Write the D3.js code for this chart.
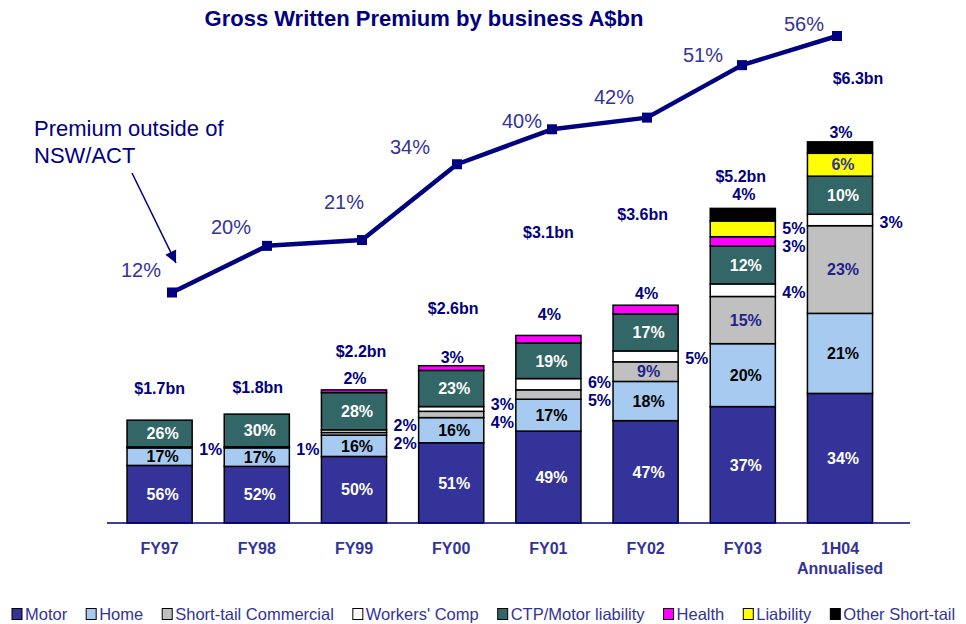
<!DOCTYPE html>
<html>
<head>
<meta charset="utf-8">
<title>Gross Written Premium by business</title>
<script src="https://cdn.jsdelivr.net/npm/d3@7"></script>
<style>
  body { margin: 0; background: #fff; }
  text { font-family: Arial, "Liberation Sans", sans-serif; }
</style>
</head>
<body>
<svg width="966" height="624" id="mainsvg"></svg>
<script>
// ---- data ----
const years = ['FY97', 'FY98', 'FY99', 'FY00', 'FY01', 'FY02', 'FY03', '1H04'];
const totals = [1.7, 1.8, 2.2, 2.6, 3.1, 3.6, 5.2, 6.3];          // A$bn
const outsideNsw = [12, 20, 21, 34, 40, 42, 51, 56];               // % premium outside NSW/ACT
const businesses = ['Motor', 'Home', 'Short-tail Commercial', "Workers' Comp",
                    'CTP/Motor liability', 'Health', 'Liability', 'Other Short-tail'];
// share of each year's premium, %
const motor          = [56, 52, 50, 51, 49, 47, 37, 34];
const home           = [17, 17, 16, 16, 17, 18, 20, 21];
const shortTail      = [ 1,  1,  2,  4,  5,  9, 15, 23];
const workersComp    = [ 0,  0,  2,  3,  6,  5,  4,  3];
const ctp            = [26, 30, 28, 23, 19, 17, 12, 10];
const health         = [ 0,  0,  2,  3,  4,  4,  3,  0];
const liability      = [ 0,  0,  0,  0,  0,  0,  5,  6];
const otherShortTail = [ 0,  0,  0,  0,  0,  0,  4,  3];
const shares = [motor, home, shortTail, workersComp, ctp, health, liability, otherShortTail];

// ---- styles ----
const colors = ['#333399', '#a6caf0', '#c0c0c0', '#ffffff', '#336666', '#ff00ff', '#ffff00', '#000000'];
const insideColors = ['#ffffff', '#000000', '#22228a', '#000080', '#ffffff', '#000080', '#333399', '#ffffff'];
const navy = '#000080';
const purple = '#333399';
// hand placement of labels that dodge the line (pixels)
const totalLift = [26, 21, 33, 52, 97, 85, 26, 58];
const totalDx   = [0, 1, 7, 2, 0, -3, -2, 18];
const topLift   = [6, 6, 6, 3, 15, 6, 8, 4];
const lineLabelOffset = [[-31, -23], [-36, -19], [-18, -38], [-47, -17], [-30, -8], [-33, -21], [-39, -10], [-33, -12]];

const svg = d3.select('#mainsvg');

const rows = years.map((y, i) => {
  const r = { year: y, total: totals[i] };
  businesses.forEach((b, k) => { r[b] = totals[i] * shares[k][i] / 100; });
  return r;
});
const series = d3.stack().keys(businesses)(rows);

const x = d3.scaleBand().domain(years).range([111, 888.6]).paddingInner(0.33).paddingOuter(0.165);
const y = d3.scaleLinear().domain([0, 7]).range([523, 99.5]);
const xLine = d3.scalePoint().domain(years).range([172, 837]);
const yLine = d3.scaleLinear().domain([12, 56]).range([292.5, 36]);

// title
svg.append('text').attr('x', 424).attr('y', 26).attr('text-anchor', 'middle')
  .attr('font-size', 22).attr('font-weight', 'bold').attr('fill', navy)
  .text('Gross Written Premium by business A$bn');

// bars
const g = svg.append('g');
g.selectAll('.layer').data(series).join('g')
  .attr('class', 'layer')
  .attr('fill', (d, k) => colors[k])
  .selectAll('rect').data(d => d.filter(s => s[1] - s[0] > 0)).join('rect')
  .attr('x', d => x(d.data.year))
  .attr('y', d => y(d[1]))
  .attr('width', x.bandwidth())
  .attr('height', d => y(d[0]) - y(d[1]))
  .attr('stroke', '#000').attr('stroke-width', 1.5);

// segment labels
function spread(items, gap) {
  items.sort((a, b) => a.cy - b.cy);
  let groups = items.map(d => ({ items: [d], mean: d.cy }));
  let merged = true;
  while (merged) {
    merged = false;
    for (let j = 0; j < groups.length - 1; j++) {
      const a = groups[j], b = groups[j + 1];
      const aEnd = a.mean + (a.items.length - 1) / 2 * gap;
      const bStart = b.mean - (b.items.length - 1) / 2 * gap;
      if (bStart - aEnd < gap) {
        const its = a.items.concat(b.items);
        groups.splice(j, 2, { items: its, mean: d3.mean(its, d => d.cy) });
        merged = true;
        break;
      }
    }
  }
  groups.forEach(gr => gr.items.forEach((d, k) => { d.ly = gr.mean + (k - (gr.items.length - 1) / 2) * gap; }));
}

const labels = svg.append('g').attr('font-weight', 'bold').attr('font-size', 16);
years.forEach((yr, i) => {
  const x0 = x(yr), cx = x0 + x.bandwidth() / 2;
  const segs = [];
  series.forEach((s, k) => {
    const d = s[i];
    if (d[1] - d[0] > 0) segs.push({ k, pct: shares[k][i], top: y(d[1]), bot: y(d[0]) });
  });
  const right = [];
  segs.forEach((s, j) => {
    const h = s.bot - s.top;
    const txt = s.pct + '%';
    if (h >= 17) {
      labels.append('text').attr('x', cx + 3).attr('y', (s.top + s.bot) / 2).attr('dy', '0.36em')
        .attr('text-anchor', 'middle').attr('fill', insideColors[s.k]).text(txt);
    } else if (j === segs.length - 1) {
      labels.append('text').attr('x', cx + 1).attr('y', s.top - topLift[i])
        .attr('text-anchor', 'middle').attr('fill', navy).text(txt);
    } else {
      right.push({ cy: (s.top + s.bot) / 2, txt });
    }
  });
  spread(right, 18);
  right.forEach(d => {
    labels.append('text').attr('x', x0 + x.bandwidth() + 7).attr('y', d.ly + 2).attr('dy', '0.36em')
      .attr('fill', navy).text(d.txt);
  });
  labels.append('text').attr('x', cx + totalDx[i]).attr('y', y(totals[i]) - totalLift[i])
    .attr('text-anchor', 'middle').attr('fill', navy).text('$' + totals[i].toFixed(1) + 'bn');
});

// axis
const axis = svg.append('g').attr('transform', 'translate(0,523)')
  .call(d3.axisBottom(x).tickSize(0).tickPadding(20));
axis.select('.domain').remove();
axis.append('line').attr('x1', 107).attr('x2', 910).attr('stroke', navy).attr('stroke-width', 1.5);
axis.selectAll('.tick text')
  .attr('font-family', 'Arial, "Liberation Sans", sans-serif')
  .attr('font-size', 16).attr('font-weight', 'bold').attr('fill', purple)
  .each(function (d) {
    if (d === '1H04') {
      const t = d3.select(this);
      t.text(null);
      t.append('tspan').attr('x', 0).text('1H04');
      t.append('tspan').attr('x', 0).attr('dy', '1.2em').text('Annualised');
    }
  });

// line: premium outside NSW/ACT
const line = d3.line().x((d, i) => xLine(years[i])).y(d => yLine(d));
svg.append('path').datum(outsideNsw).attr('d', line)
  .attr('fill', 'none').attr('stroke', navy).attr('stroke-width', 4.5).attr('stroke-linejoin', 'round');
svg.selectAll('.marker').data(outsideNsw).join('rect').attr('class', 'marker')
  .attr('x', (d, i) => xLine(years[i]) - 5).attr('y', d => yLine(d) - 5)
  .attr('width', 10).attr('height', 10).attr('fill', navy);
svg.selectAll('.linelabel').data(outsideNsw).join('text').attr('class', 'linelabel')
  .attr('x', (d, i) => xLine(years[i]) + lineLabelOffset[i][0])
  .attr('y', (d, i) => yLine(d) + lineLabelOffset[i][1]).attr('dy', '0.36em')
  .attr('text-anchor', 'middle').attr('font-size', 20).attr('fill', purple)
  .text(d => d + '%');

// annotation with arrow
svg.append('defs').append('marker').attr('id', 'arrow')
  .attr('viewBox', '0 0 10 10').attr('refX', 10).attr('refY', 5)
  .attr('markerWidth', 14).attr('markerHeight', 12).attr('markerUnits', 'userSpaceOnUse')
  .attr('orient', 'auto')
  .append('path').attr('d', 'M0,0L10,5L0,10Z').attr('fill', navy);
const note = svg.append('text').attr('font-size', 22).attr('fill', navy);
note.append('tspan').attr('x', 34).attr('y', 136).text('Premium outside of');
note.append('tspan').attr('x', 34).attr('y', 163).text('NSW/ACT');
svg.append('line').attr('x1', 132).attr('y1', 173).attr('x2', 176).attr('y2', 263)
  .attr('stroke', navy).attr('stroke-width', 1.5).attr('marker-end', 'url(#arrow)');

// legend
const legend = svg.append('g').attr('transform', 'translate(12,614)');
let lx = 0;
businesses.forEach((b, k) => {
  const it = legend.append('g').attr('transform', `translate(${lx},0)`);
  it.append('rect').attr('x', 0).attr('y', -5.5).attr('width', 10).attr('height', 11)
    .attr('fill', colors[k]).attr('stroke', '#000').attr('stroke-width', 1);
  const t = it.append('text').attr('x', 13).attr('y', 6).attr('font-size', 16.5)
    .attr('fill', purple).text(b);
  lx += 13 + t.node().getComputedTextLength() + 19;
});
</script>
</body>
</html>
